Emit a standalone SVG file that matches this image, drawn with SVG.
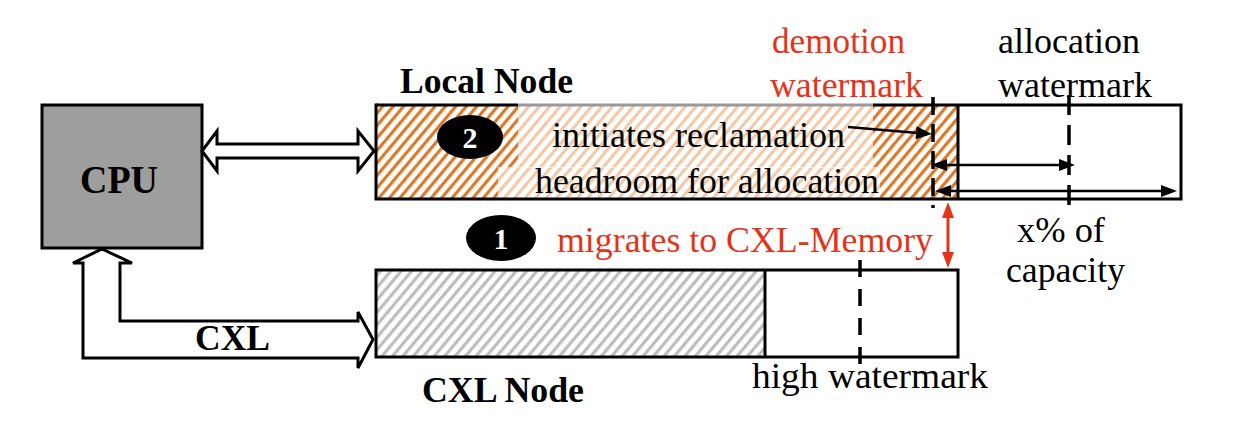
<svg xmlns="http://www.w3.org/2000/svg" width="1250" height="422" viewBox="0 0 1250 422">
<style>
  .t { font-family: "Liberation Serif", "Times New Roman", serif; font-size: 36px; fill: #000; }
  .b { font-weight: bold; }
  .red { fill: #e5331a; }
  .num { fill: #fff; font-size: 30px; font-weight: bold; }
  .box { stroke: #000; stroke-width: 3; }
  .dash { stroke: #000; stroke-width: 3.5; fill: none; }
  .ln { stroke: #000; stroke-width: 2.5; fill: none; }
  .head { fill: #000; }
  .headr { fill: #e5331a; }
  .hollow { fill: #fff; stroke: #000; stroke-width: 3; stroke-linejoin: miter; }
</style>
<defs>
  <pattern id="hatchOrange" patternUnits="userSpaceOnUse" width="8" height="8" patternTransform="rotate(40)">
    <rect width="8" height="8" fill="#fff"/>
    <rect x="0" y="0" width="3.2" height="8" fill="#dd7a2a"/>
  </pattern>
  <pattern id="hatchGray" patternUnits="userSpaceOnUse" width="8" height="8" patternTransform="rotate(40)">
    <rect width="8" height="8" fill="#fff"/>
    <rect x="0" y="0" width="3.2" height="8" fill="#bdbdbd"/>
  </pattern>
</defs>

<g id="cpu">
  <rect class="box" x="42" y="105" width="160" height="143" fill="#9e9e9e"/>
  <text class="t b" x="80" y="193" font-size="40" style="font-size:40px" textLength="78" lengthAdjust="spacingAndGlyphs">CPU</text>
</g>

<g id="local-node">
  <rect x="376" y="105" width="582" height="94" fill="url(#hatchOrange)"/>
  <rect x="518" y="102" width="355" height="66" fill="#fff" fill-opacity="0.6"/>
  <rect x="498" y="167" width="382" height="31" fill="#fff" fill-opacity="0.6"/>
  <path d="M376,105 H518" class="box" fill="none"/>
  <path d="M873,105 H1181 V199 H376 V103.5" class="box" fill="none"/>
  <path d="M518,105 H873" stroke="#999" stroke-width="3"/>
  <line x1="958" y1="105" x2="958" y2="199" class="box"/>
  <text class="t b" x="400" y="93" textLength="173" lengthAdjust="spacingAndGlyphs">Local Node</text>
  <ellipse cx="470" cy="137" rx="33" ry="22" fill="#000"/>
  <text class="t num" x="470" y="148" text-anchor="middle">2</text>
  <text class="t" x="552" y="147" textLength="293" lengthAdjust="spacingAndGlyphs">initiates reclamation</text>
  <text class="t" x="535" y="193" textLength="344" lengthAdjust="spacingAndGlyphs">headroom for allocation</text>
</g>

<g id="cxl-node">
  <rect x="376" y="270" width="389" height="87" fill="url(#hatchGray)"/>
  <rect class="box" x="376" y="270" width="582" height="87" fill="none"/>
  <line x1="765" y1="270" x2="765" y2="357" class="box"/>
  <text class="t b" x="422" y="402" textLength="162" lengthAdjust="spacingAndGlyphs">CXL Node</text>
</g>

<g id="watermarks">
  <line x1="933" y1="97" x2="933" y2="208" class="dash" stroke-dasharray="18 9"/>
  <line x1="1069" y1="95" x2="1069" y2="208" class="dash" stroke-dasharray="20 10"/>
  <line x1="860" y1="260" x2="860" y2="368" class="dash" stroke-dasharray="17 12"/>
  <text class="t red" x="772" y="53" textLength="133" lengthAdjust="spacingAndGlyphs">demotion</text>
  <text class="t red" x="770" y="97" textLength="153" lengthAdjust="spacingAndGlyphs">watermark</text>
  <text class="t" x="998" y="53" textLength="142" lengthAdjust="spacingAndGlyphs">allocation</text>
  <text class="t" x="998" y="97" textLength="154" lengthAdjust="spacingAndGlyphs">watermark</text>
  <text class="t" x="1017" y="242" textLength="88" lengthAdjust="spacingAndGlyphs">x% of</text>
  <text class="t" x="1006" y="282" textLength="119" lengthAdjust="spacingAndGlyphs">capacity</text>
  <text class="t" x="752" y="388" textLength="236" lengthAdjust="spacingAndGlyphs">high watermark</text>
</g>

<g id="migration">
  <ellipse cx="501" cy="238" rx="35" ry="23" fill="#000"/>
  <text class="t num" x="501" y="249" text-anchor="middle">1</text>
  <text class="t red" x="557" y="252" textLength="376" lengthAdjust="spacingAndGlyphs">migrates to CXL-Memory</text>
</g>

<g id="connectors">
  <polygon class="hollow" points="202,151 217,131 217,144 358,144 358,131 374,151 358,171 358,158 217,158 217,171"/>
  <polygon class="hollow" points="102,249 132,263 120,263 120,321 358,321 358,312 373,339.5 358,368 358,358 83,358 83,263 73,263"/>
  <text class="t b" x="195" y="350" textLength="75" lengthAdjust="spacingAndGlyphs">CXL</text>
  <line x1="848" y1="127" x2="918" y2="133" class="ln"/>
  <polygon class="head" points="932,134 916.6,126.2 915.6,139.2"/>
  <line x1="945" y1="165" x2="1061" y2="165" class="ln"/>
  <polygon class="head" points="931,165 947,159 947,171"/>
  <polygon class="head" points="1075,165 1059,159 1059,171"/>
  <line x1="949" y1="191" x2="1163" y2="191" class="ln"/>
  <polygon class="head" points="935,191 951,185 951,197"/>
  <polygon class="head" points="1177,191 1161,185 1161,197"/>
  <line x1="948" y1="215" x2="948" y2="255" stroke="#e5331a" stroke-width="3"/>
  <polygon class="headr" points="948,202 942,218 954,218"/>
  <polygon class="headr" points="948,268 942,252 954,252"/>
</g>
</svg>
